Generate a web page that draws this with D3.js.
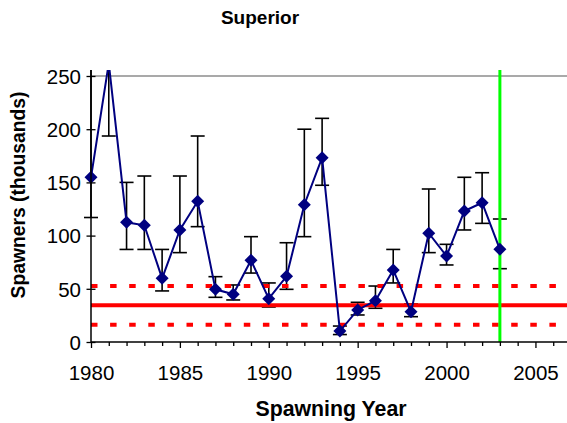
<!DOCTYPE html>
<html>
<head>
<meta charset="utf-8">
<script src="https://cdn.jsdelivr.net/npm/d3@7"></script>
<style>
  body { margin: 0; background: #fff; }
  svg { display: block; font-family: Arial, "Liberation Sans", sans-serif; }
</style>
</head>
<body>
<svg id="chart" width="567" height="423"></svg>
<script>
// spawner estimates (thousands)
const years = [1980, 1981, 1982, 1983, 1984, 1985, 1986, 1987, 1988, 1989, 1990, 1991,
  1992, 1993, 1994, 1995, 1996, 1997, 1998, 1999, 2000, 2001, 2002, 2003];
const spawners = [154.8, 262, 112.5, 109.7, 59.8, 105.3, 132.2, 49.5, 44.8, 76.8, 40.7, 61.7,
  129, 173.2, 10.3, 30.1, 38.8, 67.7, 28.5, 102.2, 80.8, 123.1, 130.9, 87.1];
const upper = [280, 300, 150, 156, 87, 156, 193.6, 61.4, 53.6, 99, 55.5, 93.3,
  200, 210.2, 15, 37.3, 52.6, 87, 35.7, 143.8, 91.8, 154.8, 159.1, 115.6];
const lower = [117, 193.6, 87, 87, 48, 84, 108.4, 42, 39.5, 64.8, 32.9, 49.5,
  99, 147.3, 7, 25.4, 31.7, 55.5, 23.8, 84, 72.4, 105.3, 111.5, 68.9];

const meanLevel = 34.5;
const bandLevels = [52.6, 16.3];
const markYear = 2003;
const yTicks = [0, 50, 100, 150, 200, 250];

const svg = d3.select("#chart");
const plotLeft = 91, plotRight = 571, plotBottom = 342, plotTop = 70;

const x = d3.scaleLinear().domain([1980, 2007]).range([plotLeft, plotRight]);
const y = d3.scaleLinear().domain([0, 250]).range([plotBottom, 76]);

svg.append("defs").append("clipPath").attr("id", "plot")
  .append("rect").attr("x", 0).attr("y", plotTop).attr("width", 567).attr("height", 300);

// top gridline
svg.append("line")
  .attr("x1", plotLeft).attr("x2", 567)
  .attr("y1", y(250)).attr("y2", y(250))
  .attr("stroke", "#8c8c8c").attr("stroke-width", 1.3);

const g = svg.append("g").attr("clip-path", "url(#plot)");

// error bars
const rows = years.map((yr, i) => ({ yr, v: spawners[i], hi: upper[i], lo: lower[i] }));
const eb = g.append("g").attr("stroke", "#000").attr("stroke-width", 1.6);
rows.forEach((d) => {
  eb.append("line").attr("x1", x(d.yr)).attr("x2", x(d.yr))
    .attr("y1", y(d.hi)).attr("y2", y(d.lo));
  [d.hi, d.lo].forEach((c) => {
    eb.append("line").attr("x1", x(d.yr) - 7).attr("x2", x(d.yr) + 7)
      .attr("y1", y(c)).attr("y2", y(c));
  });
});

// reference levels
g.append("line")
  .attr("x1", plotLeft).attr("x2", 567)
  .attr("y1", y(meanLevel)).attr("y2", y(meanLevel))
  .attr("stroke", "#ff0000").attr("stroke-width", 4);

g.selectAll(".band").data(bandLevels).join("line")
  .attr("class", "band")
  .attr("x1", plotLeft).attr("x2", 567)
  .attr("y1", (d) => y(d)).attr("y2", (d) => y(d))
  .attr("stroke", "#ff0000").attr("stroke-width", 4)
  .attr("stroke-dasharray", "6.5,12.6");

g.append("line")
  .attr("x1", x(markYear)).attr("x2", x(markYear))
  .attr("y1", plotTop).attr("y2", plotBottom)
  .attr("stroke", "#00ff00").attr("stroke-width", 3);

// series
g.append("path")
  .datum(rows)
  .attr("fill", "none")
  .attr("stroke", "#000080")
  .attr("stroke-width", 2)
  .attr("d", d3.line().x((d) => x(d.yr)).y((d) => y(d.v)));

g.selectAll(".mk").data(rows).join("path")
  .attr("class", "mk")
  .attr("transform", (d) => `translate(${x(d.yr)},${y(d.v)})`)
  .attr("d", "M0,-6.5L6.5,0L0,6.5L-6.5,0Z")
  .attr("fill", "#000080");

// axes
const xAxis = svg.append("g")
  .attr("transform", `translate(0,${plotBottom})`)
  .call(d3.axisBottom(x).tickValues(d3.range(1980, 2008)).tickSize(4)
    .tickFormat((d) => (d % 5 === 0 ? d : "")));
xAxis.select(".domain").attr("d", `M${plotLeft},0H567`).attr("stroke-width", 1.5);
xAxis.selectAll(".tick line").attr("stroke-width", 1.3)
  .attr("y2", (d) => (d % 5 === 0 ? 6 : 4));
xAxis.selectAll(".tick text")
  .attr("y", 0).attr("dy", 38)
  .attr("font-size", 20.5).attr("fill", "#000");

const yAxis = svg.append("g")
  .attr("transform", `translate(${plotLeft},0)`)
  .call(d3.axisLeft(y).tickValues(yTicks).tickSize(4.5));
yAxis.select(".domain").attr("d", `M0,${plotTop}V${plotBottom}`).attr("stroke-width", 1.5);
yAxis.selectAll(".tick line").attr("x1", 4.5).attr("x2", -4.5).attr("stroke-width", 1.3);
yAxis.selectAll(".tick text")
  .attr("x", -10).attr("dy", "0.36em")
  .attr("font-size", 20.5).attr("fill", "#000");
svg.selectAll(".domain").attr("stroke", "#000");

// titles
svg.append("text")
  .attr("x", 260).attr("y", 24)
  .attr("text-anchor", "middle")
  .attr("font-size", 19).attr("font-weight", "bold")
  .text("Superior");

svg.append("text")
  .attr("x", 331).attr("y", 416)
  .attr("text-anchor", "middle")
  .attr("font-size", 21.3).attr("font-weight", "bold")
  .text("Spawning Year");

svg.append("text")
  .attr("transform", "translate(24.5,195) rotate(-90)")
  .attr("text-anchor", "middle")
  .attr("font-size", 19.3).attr("font-weight", "bold")
  .text("Spawners (thousands)");
</script>
</body>
</html>
